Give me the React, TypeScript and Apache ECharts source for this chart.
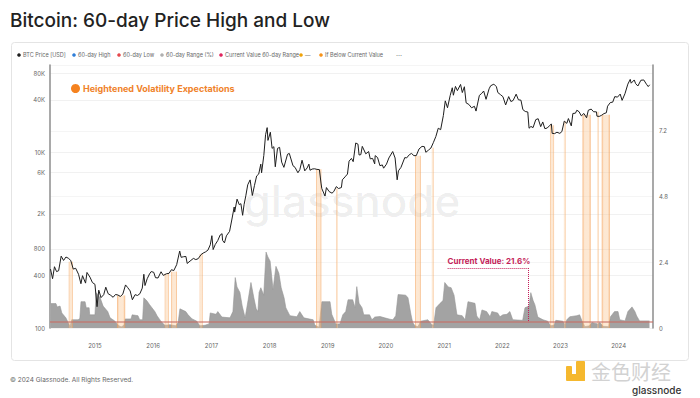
import React, { useEffect, useRef } from 'react';
import * as echarts from 'echarts';

// ---------- data ----------
const yearTicks = [2015, 2016, 2017, 2018, 2019, 2020, 2021, 2022, 2023, 2024];
const priceTickValues = [100, 400, 800, 2000, 6000, 10000, 40000, 80000];
const priceTickLabels = ['100', '400', '800', '2K', '6K', '10K', '40K', '80K'];
const currentRange = 0.216;
const currentValueLabel = 'Current Value: 21.6%';

// BTC price [USD] (date, value)
const btcPrice: [string, number][] = [
  ['2014-03-28', 470], ['2014-04-10', 365], ['2014-04-22', 500], ['2014-05-05', 440], ['2014-05-18', 450],
  ['2014-06-03', 660], ['2014-06-18', 590], ['2014-07-03', 645], ['2014-07-18', 625], ['2014-08-02', 590],
  ['2014-08-18', 470], ['2014-09-02', 480], ['2014-09-20', 410], ['2014-10-05', 320], ['2014-10-15', 395],
  ['2014-11-03', 325], ['2014-11-12', 430], ['2014-12-01', 380], ['2014-12-16', 330], ['2015-01-01', 315],
  ['2015-01-14', 175], ['2015-01-25', 270], ['2015-02-08', 222], ['2015-02-25', 240], ['2015-03-10', 292],
  ['2015-03-25', 246], ['2015-04-10', 236], ['2015-04-25', 224], ['2015-05-10', 241], ['2015-05-25', 238],
  ['2015-06-10', 229], ['2015-06-25', 244], ['2015-07-12', 310], ['2015-07-25', 290], ['2015-08-10', 265],
  ['2015-08-24', 210], ['2015-09-10', 240], ['2015-09-25', 235], ['2015-10-10', 246], ['2015-10-25', 285],
  ['2015-11-04', 410], ['2015-11-11', 305], ['2015-11-25', 365], ['2015-12-10', 415], ['2015-12-20', 440],
  ['2016-01-05', 432], ['2016-01-16', 375], ['2016-02-01', 372], ['2016-02-20', 438], ['2016-03-05', 398],
  ['2016-03-25', 416], ['2016-04-10', 420], ['2016-04-25', 462], ['2016-05-10', 452], ['2016-05-28', 528],
  ['2016-06-16', 755], ['2016-06-25', 640], ['2016-07-10', 650], ['2016-07-25', 655], ['2016-08-02', 545],
  ['2016-08-20', 580], ['2016-09-10', 622], ['2016-09-25', 603], ['2016-10-10', 617], ['2016-10-28', 688],
  ['2016-11-10', 715], ['2016-11-25', 738], ['2016-12-10', 772], ['2016-12-25', 890], ['2017-01-04', 1130],
  ['2017-01-12', 785], ['2017-01-25', 895], ['2017-02-10', 995], ['2017-02-25', 1150], ['2017-03-09', 1190],
  ['2017-03-12', 1000], ['2017-03-24', 935], ['2017-04-05', 1125], ['2017-04-25', 1265], ['2017-05-10', 1750],
  ['2017-05-24', 2400], ['2017-05-27', 2100], ['2017-06-11', 2950], ['2017-06-25', 2550], ['2017-07-05', 2620],
  ['2017-07-16', 1930], ['2017-07-25', 2550], ['2017-08-05', 3220], ['2017-08-17', 4300], ['2017-09-01', 4890],
  ['2017-09-15', 3250], ['2017-09-28', 4200], ['2017-10-12', 5430], ['2017-10-25', 5700], ['2017-11-07', 7400],
  ['2017-11-12', 5900], ['2017-11-26', 9300], ['2017-12-07', 16000], ['2017-12-17', 19300], ['2017-12-22', 13800],
  ['2018-01-06', 17100], ['2018-01-17', 11200], ['2018-01-28', 11700], ['2018-02-06', 6900], ['2018-02-20', 11200],
  ['2018-03-05', 11500], ['2018-03-18', 7800], ['2018-04-01', 6800], ['2018-04-24', 9600], ['2018-05-05', 9800],
  ['2018-05-28', 7100], ['2018-06-10', 6800], ['2018-06-28', 5900], ['2018-07-10', 6400], ['2018-07-24', 8200],
  ['2018-08-10', 6200], ['2018-08-25', 6700], ['2018-09-05', 7400], ['2018-09-12', 6300], ['2018-09-25', 6500],
  ['2018-10-10', 6550], ['2018-10-25', 6450], ['2018-11-10', 6400], ['2018-11-20', 4500], ['2018-11-25', 3900],
  ['2018-12-15', 3200], ['2018-12-24', 4000], ['2019-01-10', 3600], ['2019-01-28', 3450], ['2019-02-08', 3600],
  ['2019-02-24', 4100], ['2019-03-10', 3900], ['2019-03-28', 4000], ['2019-04-03', 4900], ['2019-04-20', 5300],
  ['2019-05-05', 5700], ['2019-05-15', 8000], ['2019-05-30', 8600], ['2019-06-10', 7900], ['2019-06-26', 12900],
  ['2019-07-10', 12500], ['2019-07-17', 9400], ['2019-07-28', 9500], ['2019-08-06', 11800], ['2019-08-28', 9700],
  ['2019-09-15', 10300], ['2019-09-25', 8500], ['2019-10-10', 8600], ['2019-10-23', 7450], ['2019-10-26', 9250],
  ['2019-11-10', 8800], ['2019-11-25', 7100], ['2019-12-10', 7250], ['2019-12-18', 6650], ['2020-01-05', 7400],
  ['2020-01-20', 8700], ['2020-02-13', 10300], ['2020-02-28', 8700], ['2020-03-12', 4900], ['2020-03-20', 6200],
  ['2020-04-05', 6800], ['2020-04-29', 8800], ['2020-05-10', 8700], ['2020-05-28', 9500], ['2020-06-10', 9800],
  ['2020-06-25', 9250], ['2020-07-10', 9250], ['2020-07-27', 11000], ['2020-08-15', 11800], ['2020-08-30', 11700],
  ['2020-09-08', 10100], ['2020-09-25', 10700], ['2020-10-10', 11300], ['2020-10-25', 13000], ['2020-11-10', 15300],
  ['2020-11-25', 19000], ['2020-12-10', 18300], ['2020-12-27', 26500], ['2021-01-08', 39000], ['2021-01-22', 32500],
  ['2021-02-08', 45000], ['2021-02-21', 55000], ['2021-02-28', 45200], ['2021-03-13', 57000], ['2021-03-25', 51000],
  ['2021-04-14', 60000], ['2021-04-25', 48500], ['2021-05-08', 56500], ['2021-05-19', 37000], ['2021-06-05', 35500],
  ['2021-06-22', 32500], ['2021-07-10', 33800], ['2021-07-20', 29800], ['2021-08-10', 45000], ['2021-08-25', 47500],
  ['2021-09-06', 50500], ['2021-09-21', 40600], ['2021-10-10', 53500], ['2021-10-20', 58000], ['2021-11-09', 60500],
  ['2021-11-25', 56500], ['2021-12-04', 48500], ['2021-12-20', 46000], ['2022-01-05', 43500], ['2022-01-22', 35000],
  ['2022-02-10', 43600], ['2022-02-24', 38300], ['2022-03-10', 39400], ['2022-03-29', 46500], ['2022-04-12', 40100],
  ['2022-04-28', 39700], ['2022-05-10', 31000], ['2022-05-25', 29500], ['2022-06-10', 29100], ['2022-06-18', 19000],
  ['2022-06-30', 19900], ['2022-07-13', 19300], ['2022-07-30', 23800], ['2022-08-14', 24400], ['2022-08-30', 19800],
  ['2022-09-12', 22400], ['2022-09-25', 18800], ['2022-10-10', 19100], ['2022-10-28', 20600], ['2022-11-05', 21300],
  ['2022-11-10', 16600], ['2022-11-25', 16500], ['2022-12-10', 17100], ['2022-12-28', 16600], ['2023-01-10', 17400],
  ['2023-01-25', 22900], ['2023-02-10', 21600], ['2023-02-20', 24500], ['2023-03-10', 20200], ['2023-03-20', 28000],
  ['2023-04-05', 28200], ['2023-04-14', 30500], ['2023-04-28', 29300], ['2023-05-12', 26300], ['2023-05-28', 28000],
  ['2023-06-14', 25000], ['2023-06-25', 30500], ['2023-07-13', 31400], ['2023-07-28', 29300], ['2023-08-15', 29200],
  ['2023-08-18', 26100], ['2023-09-01', 25900], ['2023-09-15', 26600], ['2023-10-01', 27900], ['2023-10-16', 28500],
  ['2023-10-24', 33900], ['2023-11-10', 37300], ['2023-11-25', 37700], ['2023-12-08', 43600], ['2023-12-25', 43000],
  ['2024-01-11', 46600], ['2024-01-23', 39500], ['2024-02-10', 47100], ['2024-02-28', 60500], ['2024-03-14', 68500],
  ['2024-03-20', 62000], ['2024-04-08', 67500], ['2024-04-17', 61300], ['2024-05-01', 57600], ['2024-05-20', 67000],
  ['2024-06-07', 67500], ['2024-06-24', 60300], ['2024-07-05', 56700], ['2024-07-14', 59500],
];

// 60-day range (ratio) (decimal year, value)
const rangeRatio: [number, number][] = [
  [2014.24, 0.89], [2014.33, 0.89], [2014.35, 0.77], [2014.40, 0.8], [2014.43, 0.55], [2014.50, 0.37],
  [2014.54, 0.2], [2014.57, 0.05], [2014.60, 0.3], [2014.71, 0.3], [2014.74, 0.35], [2014.76, 0.96],
  [2014.83, 0.96], [2014.85, 0.74], [2014.90, 0.74], [2014.91, 0.48], [2015.00, 0.48], [2015.02, 1.29],
  [2015.09, 1.1], [2015.14, 0.8], [2015.22, 0.6], [2015.26, 0.37], [2015.34, 0.26], [2015.40, 0.1],
  [2015.45, 0.04], [2015.50, 0.1], [2015.52, 0.33], [2015.62, 0.33], [2015.64, 0.48], [2015.74, 0.45],
  [2015.77, 0.3], [2015.82, 0.3], [2015.84, 1.1], [2015.89, 1.0], [2015.94, 0.85], [2016.03, 0.6],
  [2016.07, 0.44], [2016.13, 0.26], [2016.20, 0.1], [2016.29, 0.12], [2016.39, 0.08], [2016.43, 0.2],
  [2016.46, 0.7], [2016.56, 0.6], [2016.60, 0.48], [2016.67, 0.33], [2016.75, 0.25], [2016.80, 0.08],
  [2016.89, 0.1], [2016.96, 0.15], [2016.98, 0.55], [2017.08, 0.5], [2017.11, 0.6], [2017.18, 0.4],
  [2017.32, 0.37], [2017.37, 0.6], [2017.41, 1.84], [2017.44, 1.5], [2017.49, 1.3], [2017.53, 0.8],
  [2017.58, 0.37], [2017.63, 1.0], [2017.68, 1.66], [2017.73, 1.1], [2017.77, 0.7], [2017.80, 0.6],
  [2017.82, 1.3], [2017.85, 1.47], [2017.90, 1.2], [2017.94, 2.77], [2017.97, 2.6], [2018.01, 2.44],
  [2018.06, 1.4], [2018.11, 2.25], [2018.16, 2.0], [2018.20, 1.47], [2018.25, 1.1], [2018.28, 0.74],
  [2018.35, 0.45], [2018.47, 0.41], [2018.52, 0.6], [2018.59, 0.37], [2018.75, 0.3], [2018.78, 0.1],
  [2018.85, 0.03], [2018.90, 0.96], [2019.04, 0.96], [2019.07, 0.5], [2019.11, 0.3], [2019.14, 0.15],
  [2019.21, 0.15], [2019.26, 0.48], [2019.31, 0.6], [2019.35, 1.03], [2019.43, 1.03], [2019.47, 0.74],
  [2019.50, 1.51], [2019.54, 0.9], [2019.59, 0.74], [2019.62, 0.48], [2019.72, 0.48], [2019.76, 0.3],
  [2019.81, 0.4], [2019.90, 0.42], [2019.98, 0.37], [2020.07, 0.32], [2020.12, 0.3], [2020.17, 0.45],
  [2020.21, 1.22], [2020.34, 1.2], [2020.38, 1.1], [2020.43, 0.5], [2020.46, 0.2], [2020.50, 0.08],
  [2020.55, 0.05], [2020.60, 0.25], [2020.72, 0.3], [2020.79, 0.12], [2020.82, 0.1], [2020.86, 0.74],
  [2020.93, 0.9], [2020.98, 1.0], [2021.01, 1.66], [2021.07, 1.5], [2021.12, 1.47], [2021.17, 1.2],
  [2021.22, 0.48], [2021.31, 0.45], [2021.36, 0.3], [2021.41, 0.96], [2021.53, 0.9], [2021.56, 0.44],
  [2021.61, 0.3], [2021.65, 0.66], [2021.73, 0.6], [2021.79, 0.41], [2021.82, 0.6], [2021.92, 0.55],
  [2021.96, 0.41], [2022.01, 0.48], [2022.08, 0.5], [2022.13, 0.6], [2022.18, 0.3], [2022.35, 0.28],
  [2022.39, 0.74], [2022.46, 0.8], [2022.49, 1.29], [2022.53, 1.0], [2022.56, 0.85], [2022.61, 0.4],
  [2022.70, 0.3], [2022.78, 0.25], [2022.83, 0.08], [2022.89, 0.1], [2022.92, 0.28], [2023.04, 0.25],
  [2023.08, 0.12], [2023.11, 0.3], [2023.16, 0.41], [2023.28, 0.45], [2023.33, 0.48], [2023.37, 0.26],
  [2023.42, 0.05], [2023.50, 0.08], [2023.54, 0.2], [2023.64, 0.15], [2023.68, 0.2], [2023.73, 0.06],
  [2023.83, 0.05], [2023.86, 0.41], [2023.93, 0.6], [2023.99, 0.6], [2024.02, 0.3], [2024.11, 0.26],
  [2024.16, 0.6], [2024.23, 0.77], [2024.28, 0.6], [2024.31, 0.44], [2024.36, 0.26], [2024.53, 0.26],
];

// periods where the 60-day range was below the current value (start year, end year, price)
const lowVolBands: [number, number, number][] = [
  [2014.55, 2014.62, 570], [2015.38, 2015.52, 235], [2016.20, 2016.27, 415], [2016.31, 2016.41, 440],
  [2016.80, 2016.85, 700], [2018.80, 2018.89, 6450], [2019.15, 2019.17, 3900], [2020.50, 2020.60, 9250],
  [2020.79, 2020.82, 11400], [2022.82, 2022.89, 20500], [2023.06, 2023.09, 22800], [2023.38, 2023.52, 27000],
  [2023.63, 2023.65, 29300], [2023.71, 2023.85, 27000],
];

const legendItems: [string, string][] = [
  ['BTC Price [USD]', '#1e1e1e'],
  ['60-day High', '#2f7ed8'],
  ['60-day Low', '#e5484d'],
  ['60-day Range (%)', '#b0b0b0'],
  ['Current Value 60-day Range', '#e0245e'],
  ['—', '#f0a30a'],
  ['If Below Current Value', '#f7931a'],
];

// ---------- helpers ----------
function yearToMs(y: number) {
  const yr = Math.floor(y);
  const s = Date.UTC(yr, 0, 1);
  const e = Date.UTC(yr + 1, 0, 1);
  return s + (y - yr) * (e - s);
}
function dateToMs(s: string) {
  return Date.parse(s + 'T00:00:00Z');
}

const FONT = 'Inter, Roboto, "Noto Sans", sans-serif';

export default function App() {
  const ref = useRef<HTMLDivElement>(null);
  useEffect(() => {
    const chart = echarts.init(ref.current!, null, { renderer: 'svg' });

    const legendX = [19, 74, 119, 162, 221, 301, 321];
    const legendGraphics: any[] = [];
    legendItems.forEach(([name, color], i) => {
      legendGraphics.push({ type: 'circle', x: legendX[i], y: 55, shape: { r: 1.8 }, style: { fill: color } });
      legendGraphics.push({
        type: 'text', x: legendX[i] + 4, y: 55,
        style: { text: name, fontSize: 5.5, fontFamily: FONT, fill: '#666', textVerticalAlign: 'middle' },
      });
    });
    legendGraphics.push({
      type: 'text', x: 396, y: 55,
      style: { text: '···', fontSize: 7, fontFamily: FONT, fill: '#777', textVerticalAlign: 'middle' },
    });

    const option: any = {
      animation: false,
      backgroundColor: '#ffffff',
      grid: { left: 50, right: 47, top: 65, bottom: 70 },
      xAxis: {
        type: 'value',
        min: yearToMs(2014.227),
        max: yearToMs(2024.59),
        axisLine: { show: false },
        axisTick: { show: false, customValues: yearTicks.map((y) => Date.UTC(y, 0, 1)) },
        splitLine: { show: false },
        axisLabel: {
          customValues: yearTicks.map((y) => Date.UTC(y, 0, 1)),
          formatter: (v: number) => String(new Date(v).getUTCFullYear()),
          fontSize: 6, color: '#666', fontFamily: FONT, margin: 14,
        },
      },
      yAxis: [
        {
          type: 'value', min: 2, max: 5, position: 'left',
          axisLine: { show: true, lineStyle: { color: '#8c8c8c', width: 1.5 } },
          axisTick: { show: false, customValues: priceTickValues.map((v) => Math.log10(v)) },
          splitLine: { show: true, lineStyle: { color: '#eeeeee', width: 0.8 } },
          axisLabel: {
            customValues: priceTickValues.map((v) => Math.log10(v)),
            formatter: (v: number) => {
              const i = priceTickValues.findIndex((p) => Math.abs(Math.log10(p) - v) < 1e-6);
              return i >= 0 ? priceTickLabels[i] : '';
            },
            fontSize: 6, color: '#666', fontFamily: FONT, margin: 5,
          },
        },
        { type: 'log', logBase: 10, min: 100, max: 100000, show: false },
        {
          type: 'value', min: 0, max: 9.6, interval: 2.4, position: 'right',
          axisLine: { show: true, lineStyle: { color: '#8c8c8c', width: 1.5 } },
          axisTick: { show: false },
          splitLine: { show: true, lineStyle: { color: '#f2f2f2', width: 0.8 } },
          axisLabel: { showMaxLabel: false, fontSize: 6, color: '#666', fontFamily: FONT, margin: 6 },
        },
      ],
      series: [
        {
          type: 'line', name: '60-day Range (%)', yAxisIndex: 2, z: 1,
          data: rangeRatio.map(([y, v]) => [yearToMs(y), v]),
          symbol: 'none', lineStyle: { width: 0.6, color: '#969696' },
          areaStyle: { color: '#a3a3a3', opacity: 1 },
          markLine: {
            silent: true, symbol: ['none', 'none'], label: { show: false },
            data: [
              { yAxis: currentRange, lineStyle: { color: 'rgba(200,110,100,0.55)', width: 2.2, type: 'solid' } },
              [
                { coord: [yearToMs(2022.44), 2.19], lineStyle: { color: '#c41e5a', width: 1, type: 'dotted' } },
                { coord: [yearToMs(2022.44), currentRange] },
              ],
              [
                { coord: [yearToMs(2021.06), 2.19], lineStyle: { color: '#c41e5a', width: 1, type: 'dotted' } },
                { coord: [yearToMs(2022.44), 2.19] },
              ],
            ],
          },
          markPoint: {
            silent: true,
            data: [{
              coord: [yearToMs(2021.77), 2.43], symbol: 'circle', symbolSize: 1,
              itemStyle: { color: 'rgba(0,0,0,0)' },
              label: {
                show: true, position: 'inside', formatter: currentValueLabel,
                color: '#c41e5a', fontWeight: 'bold', fontSize: 8, fontFamily: FONT,
              },
            }],
          },
        },
        {
          type: 'custom', name: 'If Below Current Value', yAxisIndex: 1, z: 2, silent: true,
          data: lowVolBands.map(([a, b, p]) => [yearToMs(a), yearToMs(b), p]),
          encode: { x: [0, 1], y: 2 },
          renderItem: (params: any, api: any) => {
            const p0 = api.coord([api.value(0), 100]);
            const p1 = api.coord([api.value(1), api.value(2)]);
            const w = Math.max(p1[0] - p0[0], 1.6);
            return {
              type: 'rect',
              shape: { x: p0[0], y: p1[1], width: w, height: p0[1] - p1[1] },
              style: {
                fill: new echarts.graphic.LinearGradient(0, 0, 1, 0, [
                  { offset: 0, color: 'rgba(243,150,70,0.7)' },
                  { offset: 0.25, color: 'rgba(250,200,150,0.42)' },
                  { offset: 0.75, color: 'rgba(250,200,150,0.42)' },
                  { offset: 1, color: 'rgba(243,150,70,0.7)' },
                ]),
              },
            };
          },
        },
        {
          type: 'line', name: 'BTC Price [USD]', yAxisIndex: 1, z: 3,
          data: btcPrice.map(([d, v]) => [dateToMs(d), v]),
          symbol: 'none', lineStyle: { color: '#1e1e1e', width: 1 },
        },
      ],
      graphic: [
        {
          type: 'rect', z: -10, silent: true,
          shape: { x: 11.5, y: 42.5, width: 677, height: 318, r: 3 },
          style: { fill: 'none', stroke: '#e4e4e4', lineWidth: 1 },
        },
        {
          type: 'text', x: 10, y: 20,
          style: {
            text: 'Bitcoin: 60-day Price High and Low', fontSize: 19, fontWeight: 500,
            fontFamily: FONT, fill: '#222', textVerticalAlign: 'middle',
          },
        },
        ...legendGraphics,
        {
          type: 'text', x: 352, y: 201, z: 0, silent: true,
          style: {
            text: 'glassnode', fontSize: 44, fontWeight: 500, fontFamily: FONT,
            fill: 'rgba(0,0,0,0.08)', textAlign: 'center', textVerticalAlign: 'middle',
          },
        },
        { type: 'circle', x: 75.5, y: 88.5, shape: { r: 4.5 }, style: { fill: '#f5821f' } },
        {
          type: 'text', x: 83, y: 88.5,
          style: {
            text: 'Heightened Volatility Expectations', fontSize: 9, fontWeight: 'bold',
            fontFamily: FONT, fill: '#f0822a', textVerticalAlign: 'middle',
          },
        },
        {
          type: 'text', x: 10, y: 380,
          style: {
            text: '© 2024 Glassnode. All Rights Reserved.', fontSize: 6.5,
            fontFamily: FONT, fill: '#666', textVerticalAlign: 'middle',
          },
        },
        { type: 'rect', shape: { x: 566, y: 366, width: 6, height: 9, r: 1 }, style: { fill: '#f5b82e' } },
        { type: 'rect', shape: { x: 576, y: 361, width: 9, height: 20, r: 1 }, style: { fill: '#f5b82e' } },
        { type: 'rect', shape: { x: 566, y: 374, width: 19, height: 7, r: 1 }, style: { fill: '#f5b82e' } },
        {
          type: 'text', x: 591, y: 371,
          style: {
            text: '金色财经', fontSize: 20, fontFamily: '"Noto Sans CJK SC", sans-serif',
            fill: '#d2d2d2', textVerticalAlign: 'middle',
          },
        },
        {
          type: 'text', x: 632, y: 390,
          style: {
            text: 'glassnode', fontSize: 10, fontWeight: 500, fontFamily: FONT,
            fill: '#333', textVerticalAlign: 'middle',
          },
        },
      ],
    };
    chart.setOption(option);
    return () => chart.dispose();
  }, []);
  return (
    <div
      ref={ref}
      style={{ width: 700, height: 398, position: 'absolute', left: 0, top: 0, background: '#fff' }}
    />
  );
}
